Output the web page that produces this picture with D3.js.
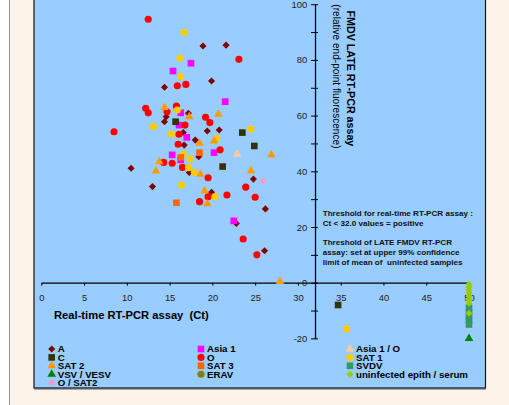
<!DOCTYPE html>
<html>
<head>
<meta charset="utf-8">
<script src="https://cdn.jsdelivr.net/npm/d3@7"></script>
<style>
  body { margin: 0; background: #fff; }
  svg text { font-family: "Liberation Sans", Arial, sans-serif; }
</style>
</head>
<body>
<svg id="chart" width="509" height="405"></svg>
<script>
// series values: [Ct, relative end-point fluorescence]
const ptsA = [[18.9, 85.0], [21.6, 85.3], [19.9, 72.4], [14.4, 70.2], [14.6, 59.6], [14.4, 57.8], [17.2, 60.8],
  [16.6, 53.9], [19.4, 54.5], [20.8, 54.8], [18.0, 51.2], [16.7, 49.4], [18.4, 45.2], [17.3, 39.6], [19.9, 32.5],
  [10.5, 41.1], [13.0, 34.5], [24.8, 37.2], [26.2, 26.5], [22.8, 21.3], [26.1, 11.5]]
const ptsAsia1 = [[17.5, 78.8], [15.4, 76.0], [21.5, 65.0], [16.3, 61.0], [16.1, 56.6], [17.0, 52.2], [15.3, 45.9],
  [20.2, 46.7], [16.3, 44.1], [22.5, 22.2]]
const ptsAsia1O = [[22.9, 46.1]]
const ptsC = [[15.7, 57.8], [23.5, 53.9], [24.9, 49.1], [21.2, 41.7], [34.7, -8.0]]
const ptsO = [[12.5, 94.6], [23.1, 80.2], [15.9, 70.7], [16.9, 71.2], [12.2, 62.6], [12.5, 61.0], [14.7, 61.4],
  [15.8, 63.4], [19.2, 59.4], [19.7, 57.5], [16.8, 56.6], [16.1, 53.3], [8.5, 54.2], [16.0, 49.7], [20.9, 47.7],
  [14.3, 43.2], [15.3, 42.9], [16.5, 41.4], [19.5, 37.7], [18.5, 29.1], [19.5, 30.9], [21.7, 31.5], [23.9, 34.3],
  [25.0, 30.7], [23.6, 15.7], [25.2, 10.0]]
const ptsSAT1 = [[16.7, 89.9], [16.2, 80.6], [16.3, 74.0], [15.9, 62.0], [13.1, 56.1], [15.2, 53.3], [24.5, 55.2],
  [20.5, 51.8], [16.6, 46.2], [17.4, 44.4], [17.2, 41.3], [17.9, 39.6], [16.4, 35.1], [20.3, 30.9], [35.7, -16.6]]
const ptsSAT2 = [[14.4, 62.9], [17.3, 59.6], [20.7, 60.5], [18.5, 50.1], [20.2, 50.9], [13.8, 43.4], [13.4, 40.1],
  [18.6, 38.9], [19.1, 32.9], [19.4, 28.3], [26.9, 45.9], [24.5, 40.2], [27.9, 0.4]]
const ptsSAT3 = [[15.8, 28.7], [18.5, 46.7], [16.3, 45.0]]
const ptsSVDV = [[50, -9], [50, -10.5], [50, -12], [50, -13.5], [50, -15]]
const ptsVSV = [[50, -20]]
const ptsERAV = []
const ptsUninf = [[50, -0.6], [50, -1.6], [50, -2.6], [50, -3.7], [50, -4.8], [50, -6.2], [50, -7.4], [50, -11]]
const ptsOSAT2 = [[25.9, 36.5]]

// categories in drawing order
const categories = ['A', 'Asia 1', 'Asia 1 / O', 'C', 'O', 'SAT 1', 'SAT 2', 'SAT 3', 'SVDV', 'VSV / VESV',
  'ERAV', 'uninfected epith / serum', 'O / SAT2']
const seriesValues = [ptsA, ptsAsia1, ptsAsia1O, ptsC, ptsO, ptsSAT1, ptsSAT2, ptsSAT3, ptsSVDV, ptsVSV,
  ptsERAV, ptsUninf, ptsOSAT2]

const xTicks = [0, 5, 10, 15, 20, 25, 30, 35, 40, 45, 50]
const yTicks = [-20, -10, 0, 10, 20, 30, 40, 50, 60, 70, 80, 90, 100]
const yThresholdCt = 32

const style = {
  'A': { color: '#800000', shape: 'diamond' },
  'Asia 1': { color: '#ff00ff', shape: 'square' },
  'Asia 1 / O': { color: '#ffcc99', shape: 'triangle' },
  'C': { color: '#333300', shape: 'square' },
  'O': { color: '#ff0000', shape: 'circle' },
  'SAT 1': { color: '#ffcc00', shape: 'circle' },
  'SAT 2': { color: '#ff9900', shape: 'triangle' },
  'SAT 3': { color: '#ff6600', shape: 'square' },
  'SVDV': { color: '#339966', shape: 'square' },
  'VSV / VESV': { color: '#008000', shape: 'triangle' },
  'ERAV': { color: '#808000', shape: 'circle' },
  'uninfected epith / serum': { color: '#99cc00', shape: 'diamond' },
  'O / SAT2': { color: '#ff99cc', shape: 'diamond' }
}

const symbolFor = {
  circle: d3.symbol().type(d3.symbolCircle).size(40),
  square: d3.symbol().type(d3.symbolSquare).size(44),
  triangle: d3.symbol().type(d3.symbolTriangle).size(32),
  diamond: d3.symbol().type(d3.symbolSquare).size(25)
}

const svg = d3.select('#chart')

// background frames
svg.append('rect').attr('x', 10).attr('y', 0).attr('width', 499).attr('height', 405).attr('fill', '#fdf3e9')
svg.append('line').attr('x1', 9.5).attr('x2', 9.5).attr('y1', 0).attr('y2', 405)
  .attr('stroke', '#ee7b3a').attr('stroke-width', 1)
svg.append('rect').attr('x', 34).attr('y', -2).attr('width', 451.5).attr('height', 390)
  .attr('fill', '#99ccff').attr('stroke', '#111').attr('stroke-width', 1.2)
svg.append('line').attr('x1', 34).attr('x2', 486).attr('y1', 388.5).attr('y2', 388.5)
  .attr('stroke', '#4a5868').attr('stroke-width', 2)

const x = d3.scaleLinear().domain([0, 50]).range([41.3, 469])
const y = d3.scaleLinear().domain([-20, 100]).range([338.4, 4.2])

// x axis
const xAxis = d3.axisBottom(x).tickValues(xTicks).tickSizeInner(3).tickSizeOuter(0).tickPadding(8.5)
const gx = svg.append('g').attr('transform', `translate(0,${y(0)})`).call(xAxis)
gx.select('.domain').attr('stroke', '#000').attr('stroke-width', 1.3)
gx.selectAll('.tick line').attr('stroke', '#000')
gx.selectAll('text').attr('fill', '#222').style('font-size', '9.4px').attr('font-family', null)

// y axis
const yAxis = d3.axisLeft(y).tickValues(yTicks).tickSizeInner(4).tickSizeOuter(0).tickPadding(3.8)
  .tickFormat(d => d % 20 === 0 ? d : '')
const gy = svg.append('g').attr('transform', `translate(${x(yThresholdCt)},0)`).call(yAxis)
gy.select('.domain').attr('stroke', '#000').attr('stroke-width', 1.3)
gy.selectAll('.tick line').attr('stroke', '#000')
gy.selectAll('text').attr('fill', '#222').style('font-size', '9.4px').attr('font-family', null)
const gy2 = svg.append('g').attr('transform', `translate(${x(yThresholdCt)},0)`)
  .call(d3.axisRight(y).tickValues(yTicks).tickSizeInner(3).tickSizeOuter(0).tickFormat(''))
gy2.select('.domain').remove()
gy2.selectAll('.tick line').attr('stroke', '#000')

// points
categories.forEach((name, i) => {
  const st = style[name]
  svg.append('g').selectAll('path')
    .data(seriesValues[i])
    .join('path')
    .attr('d', symbolFor[st.shape])
    .attr('transform', d => `translate(${x(d[0])},${y(d[1])})` + (st.shape === 'diamond' ? ' rotate(45)' : ''))
    .attr('fill', st.color)
})

// axis titles
svg.append('text').attr('x', 54).attr('y', 319)
  .style('font-size', '11.2px').style('font-weight', 'bold').style('white-space', 'pre')
  .text('Real-time RT-PCR assay  (Ct)')
svg.append('text').attr('transform', 'translate(347,10.5) rotate(90)')
  .style('font-size', '10.7px').style('font-weight', 'bold')
  .text('FMDV LATE RT-PCR assay')
svg.append('text').attr('transform', 'translate(333,4.3) rotate(90)')
  .style('font-size', '10.1px')
  .text('(relative end-point fluorescence)')

// threshold notes
const notes = [
  ['Threshold for real-time RT-PCR assay :', 216],
  ['Ct < 32.0 values = positive', 226],
  ['Threshold of LATE FMDV RT-PCR', 245],
  ['assay: set at upper 99% confidence', 255],
  ['limit of mean of  uninfected samples', 264.7]
]
svg.append('g').selectAll('text').data(notes).join('text')
  .attr('x', 322.7).attr('y', d => d[1])
  .style('font-size', '8.1px').style('font-weight', 'bold').style('white-space', 'pre')
  .attr('fill', '#111')
  .text(d => d[0])

// legend
const legendColumns = [
  ['A', 'C', 'SAT 2', 'VSV / VESV', 'O / SAT2'],
  ['Asia 1', 'O', 'SAT 3', 'ERAV'],
  ['Asia 1 / O', 'SAT 1', 'SVDV', 'uninfected epith / serum']
]
const legendX = [51.7, 201, 350]
const legendTop = 349
const legendStep = 8.4
legendColumns.forEach((col, ci) => {
  const g = svg.append('g')
  col.forEach((name, ri) => {
    const st = style[name]
    const cy = legendTop + ri * legendStep
    g.append('path')
      .attr('d', symbolFor[st.shape])
      .attr('transform', `translate(${legendX[ci]},${cy})` + (st.shape === 'diamond' ? ' rotate(45)' : ''))
      .attr('fill', st.color)
    g.append('text')
      .attr('x', legendX[ci] + 6).attr('y', cy).attr('dy', '0.36em')
      .style('font-size', '9.7px').style('font-weight', 'bold')
      .text(name)
  })
})
</script>
</body>
</html>
